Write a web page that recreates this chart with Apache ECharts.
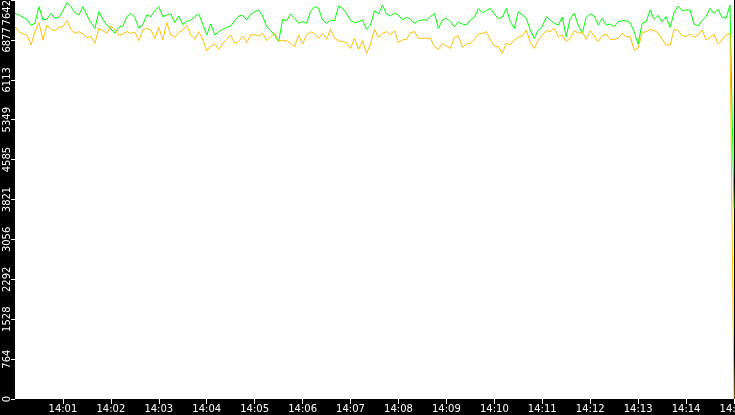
<!DOCTYPE html>
<html>
<head>
<meta charset="utf-8">
<script src="https://cdn.jsdelivr.net/npm/echarts@6/dist/echarts.min.js"></script>
<style>
html, body { margin: 0; padding: 0; background: #000; }
#chart-container { width: 735px; height: 415px; }
</style>
</head>
<body>
<div id="chart-container"></div>
<script>
// samples every 5 s starting 14:00:00
var STEP = 5;
var timeLabels = ['14:00', '14:01', '14:02', '14:03', '14:04', '14:05', '14:06', '14:07',
  '14:08', '14:09', '14:10', '14:11', '14:12', '14:13', '14:14', '14:15'];
var yMax = 7642.1;
var yStep = 764.21;

var greenValues = [
  7387, 7355, 7310, 7272, 7157, 7195, 7514, 7259, 7272, 7387, 7291, 7310, 7438, 7591, 7514, 7399, 7355, 7514, 7348, 7208, 7099, 7419, 7272, 7157, 7093, 7004,
  7119, 7144, 7323, 7387, 7310, 7106, 7170, 7355, 7323, 7438, 7514, 7323, 7355, 7374, 7208, 7336, 7170, 7233, 7259, 7323, 7374, 7182, 6972, 7182, 6972, 7036,
  7080, 7119, 7144, 7246, 7336, 7348, 7259, 7374, 7419, 7450, 7336, 7131, 7055, 6972, 6844, 7272, 7246, 7374, 7291, 7195, 7227, 7195, 7419, 7514, 7482, 7259,
  7195, 7259, 7246, 7527, 7482, 7387, 7246, 7208, 7227, 7259, 7080, 7163, 7438, 7374, 7546, 7374, 7336, 7387, 7355, 7259, 7310, 7272, 7195, 7246, 7259,
  7259, 7323, 7387, 7099, 7259, 7291, 7227, 7131, 7221, 7182, 7163, 7259, 7310, 7476, 7399, 7438, 7482, 7374, 7285, 7310, 7482, 7227, 7099, 7419, 7355, 7291,
  7067, 6908, 7067, 7131, 7323, 7259, 7195, 7163, 7310, 6940, 7291, 7387, 7163, 7004, 7310, 7374, 7336, 7163, 7291, 7163, 7182, 7131, 7227, 7246, 7246, 7208,
  7036, 6799, 7195, 7227, 7450, 7272, 7348, 7227, 7323, 7119, 7399, 7527, 7438, 7450, 7450, 7182, 7144, 7246, 7323, 7482, 7387, 7463, 7310, 7291, 7546,
  3650
];

var orangeValues = [
  7131, 7036, 6991, 6972, 6780, 7036, 7208, 6876, 7163, 7080, 7055, 7119, 7131, 7246, 7080, 7004, 7036, 6991, 6921, 6940, 6812, 7099, 7055, 7004, 7144, 7080,
  6965, 6991, 7036, 7004, 7029, 6863, 7067, 7099, 7067, 6908, 7119, 6876, 7208, 6972, 6927, 7016, 7067, 7163, 6972, 6889, 7036, 6876, 6672, 6761, 6799, 6697,
  6812, 6889, 6972, 6812, 6844, 6953, 6825, 6972, 6978, 6953, 7004, 6863, 6940, 7004, 6863, 6863, 6863, 6812, 6748, 6972, 6799, 6978, 7029, 7004, 6908, 7004,
  6889, 7080, 6908, 6863, 6844, 6825, 6717, 6908, 6697, 6863, 6621, 6799, 7080, 6927, 7004, 7036, 6972, 7055, 6825, 6876, 6889, 7016, 7036, 6908, 6908,
  6908, 6908, 6748, 6697, 6812, 6761, 6717, 6927, 6953, 6736, 6799, 6812, 6889, 6991, 7004, 7036, 6876, 6761, 6748, 6621, 6812, 6780, 6876, 6927, 6953, 7067,
  6825, 6717, 6876, 6972, 7055, 7036, 7099, 6940, 6972, 6844, 6908, 7055, 7004, 7036, 6889, 7055, 6953, 6844, 6953, 6991, 6889, 6889, 6908, 7004, 6940, 6940,
  6685, 6717, 7016, 7036, 7080, 7055, 7016, 6889, 6780, 6780, 7080, 7055, 6965, 6940, 6991, 6927, 6972, 7067, 6876, 6927, 6991, 6799, 6876, 6972, 7004,
  0
];

function toPairs(values) {
  return values.map(function (v, i) { return [i * STEP, v]; });
}

// minute marks, 14:00 itself gets no tick
var minuteTicks = timeLabels.map(function (l, i) { return i * 60; }).slice(1);

var dom = document.getElementById('chart-container');
var myChart = echarts.init(dom, null, { renderer: 'canvas' });

var option = {
  animation: false,
  backgroundColor: '#000',
  grid: {
    left: 15,
    right: 1,
    top: 0,
    bottom: 16,
    containLabel: false,
    outerBoundsMode: 'none',
    show: true,
    backgroundColor: '#fff',
    borderWidth: 0
  },
  xAxis: {
    type: 'value',
    min: 0,
    max: (timeLabels.length - 1) * 60,
    interval: 60,
    axisLine: { show: false },
    splitLine: { show: false },
    axisTick: {
      show: true,
      length: 5,
      customValues: minuteTicks,
      lineStyle: { color: '#fff', width: 1 }
    },
    axisLabel: {
      color: '#fff',
      fontSize: 10,
      fontFamily: 'DejaVu Sans',
      margin: 5,
      hideOverlap: false,
      customValues: minuteTicks,
      formatter: function (v) { return timeLabels[Math.round(v / 60)]; }
    }
  },
  yAxis: {
    type: 'value',
    min: 0,
    max: yMax,
    interval: yStep,
    axisLine: { show: false },
    splitLine: { show: false },
    axisTick: {
      show: true,
      length: 4,
      lineStyle: { color: '#fff', width: 1 }
    },
    axisLabel: {
      color: '#fff',
      fontSize: 10,
      fontFamily: 'DejaVu Sans',
      rotate: 90,
      margin: 3,
      alignMaxLabel: 'right',
      formatter: function (v) { return String(Math.floor(v + 1e-6)); }
    }
  },
  series: [
    {
      name: 'green',
      type: 'line',
      showSymbol: false,
      lineStyle: { color: '#00ff00', width: 1 },
      itemStyle: { color: '#00ff00' },
      data: toPairs(greenValues)
    },
    {
      name: 'orange',
      type: 'line',
      showSymbol: false,
      lineStyle: { color: '#ffc000', width: 1 },
      itemStyle: { color: '#ffc000' },
      data: toPairs(orangeValues)
    }
  ]
};

myChart.setOption(option);
window.addEventListener('resize', myChart.resize);
</script>
</body>
</html>
